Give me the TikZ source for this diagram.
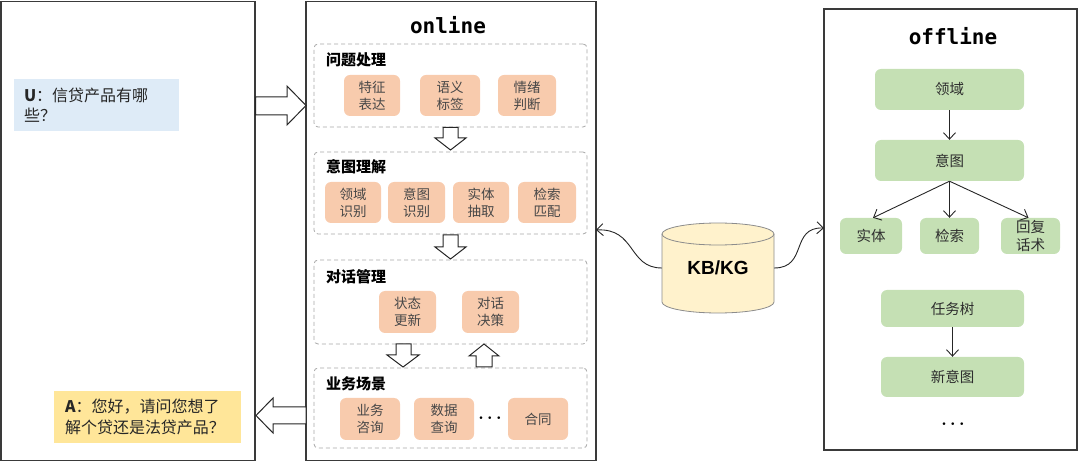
\documentclass[tikz,border=0pt]{standalone}
\usepackage{fontspec}
\setmainfont{Noto Sans CJK SC}
\newfontfamily\monofnt{DejaVu Sans Mono}
\newfontfamily\kbfnt{Liberation Sans}
\usetikzlibrary{arrows.meta}
\definecolor{orangebox}{HTML}{F8CBAD}
\definecolor{greenbox}{HTML}{C5E0B4}
\definecolor{bluebox}{HTML}{DEEBF7}
\definecolor{yellowbox}{HTML}{FFE699}
\definecolor{cylfill}{HTML}{FFF2CC}
\definecolor{cylline}{HTML}{8C8C8C}
\definecolor{dashgray}{HTML}{A6A6A6}
\definecolor{framecol}{HTML}{3A3A3A}
\begin{document}
\begin{tikzpicture}[x=1pt,y=-1pt,
  frame/.style={draw=framecol, line width=1.2pt, inner sep=0},
  grp/.style={draw=dashgray, dash pattern=on 4pt off 3pt, rounded corners=4pt, line width=0.8pt, inner sep=0},
  obox/.style={fill=orangebox, rounded corners=6pt, align=center, inner sep=0,
    font=\fontsize{13.5}{17}\selectfont, text=black!72},
  gbox/.style={fill=greenbox, rounded corners=6pt, align=center, inner sep=0,
    font=\fontsize{14.5}{18}\selectfont, text=black!82},
  ttl/.style={anchor=west, inner sep=0, font=\bfseries\fontsize{15}{18}\selectfont},
  blk/.style={draw=black!85, fill=white, line width=1pt, line join=miter},
  conn/.style={draw=black!85, line width=0.9pt, -{Straight Barb[length=6.5pt,width=12pt]}},
  head/.style={inner sep=0, font=\monofnt\bfseries\fontsize{21}{22}\selectfont},
  dots/.style={inner sep=0, font=\boldmath\fontsize{17}{17}\selectfont}
]
\useasboundingbox (0,0) rectangle (1080,462);

% ---------- frames ----------
\node[frame, minimum width=254, minimum height=459] (userpane) at (128,231) {};
\node[frame, minimum width=290, minimum height=459] (online) at (451,231) {};
\node[frame, minimum width=253, minimum height=441] (offline) at (950.5,229.5) {};

% ---------- user pane ----------
\node[fill=bluebox, minimum width=165, minimum height=52, text width=145, inner xsep=10, inner ysep=0,
  align=left, font=\fontsize{16}{20}\selectfont, text=black!85] (uq) at (96.5,105)
  {\textbf{U}：信贷产品有哪\\些？};
\node[fill=yellowbox, minimum width=187, minimum height=52, text width=165, inner xsep=11, inner ysep=0,
  align=left, font=\fontsize{16}{21}\selectfont, text=black!85] (ans) at (147.5,417)
  {\textbf{A}：您好，请问您想了\\解个贷还是法贷产品？};

% ---------- online ----------
\node[head] (ontitle) at (448,25) {online};

\node[grp, minimum width=273, minimum height=83] (g1) at (450.5,85.5) {};
\node[grp, minimum width=273, minimum height=82] (g2) at (450.5,193) {};
\node[grp, minimum width=273, minimum height=84] (g3) at (450.5,302) {};
\node[grp, minimum width=273, minimum height=80] (g4) at (450.5,408) {};

\node[ttl] (t1) at (326,60) {问题处理};
\node[ttl] (t2) at (326,167) {意图理解};
\node[ttl] (t3) at (326,277) {对话管理};
\node[ttl] (t4) at (326,384) {业务场景};

\node[obox, minimum width=56, minimum height=41] (a1) at (372,95.5) {特征\\表达};
\node[obox, minimum width=60, minimum height=41] (a2) at (450,95.5) {语义\\标签};
\node[obox, minimum width=58, minimum height=41] (a3) at (527,95.5) {情绪\\判断};

\node[obox, minimum width=56, minimum height=41] (b1) at (353,202.5) {领域\\识别};
\node[obox, minimum width=57, minimum height=41] (b2) at (416.5,202.5) {意图\\识别};
\node[obox, minimum width=56, minimum height=41] (b3) at (481,202.5) {实体\\抽取};
\node[obox, minimum width=58, minimum height=41] (b4) at (547,202.5) {检索\\匹配};

\node[obox, minimum width=57, minimum height=42] (c1) at (407.5,312) {状态\\更新};
\node[obox, minimum width=57, minimum height=42] (c2) at (490.5,312) {对话\\决策};

\node[obox, minimum width=60, minimum height=42] (d1) at (370,419) {业务\\咨询};
\node[obox, minimum width=60, minimum height=42] (d2) at (444,419) {数据\\查询};
\node[dots] (d3) at (490,418) {$\cdots$};
\node[obox, minimum width=60, minimum height=42] (d4) at (538,419) {合同};

% block arrows
\draw[blk] (255.5,97) -- (287,97) -- (287,86) -- (306,105.5) -- (287,125) -- (287,115) -- (255.5,115) -- cycle;
\draw[blk] (306,407) -- (273,407) -- (273,398) -- (256,415.5) -- (273,433) -- (273,424) -- (306,424) -- cycle;
\draw[blk] (443,127.5) -- (458,127.5) -- (458,138) -- (466,138) -- (450.5,150) -- (435,138) -- (443,138) -- cycle;
\draw[blk] (443,235) -- (458,235) -- (458,247) -- (466,247) -- (450.5,259) -- (435,247) -- (443,247) -- cycle;
\draw[blk] (396,344) -- (411,344) -- (411,355) -- (419,355) -- (403,367) -- (387,355) -- (396,355) -- cycle;
\draw[blk] (476,367) -- (492,367) -- (492,356) -- (499,356) -- (484,344) -- (469,356) -- (476,356) -- cycle;

% ---------- KB/KG ----------
\fill[cylfill] (662,234) -- (662,302) arc[start angle=180, end angle=360, x radius=56pt, y radius=11pt]
  -- (774,234) arc[start angle=0, end angle=180, x radius=56pt, y radius=11pt] -- cycle;
\draw[cylline, line width=0.8pt] (662,234) -- (662,302) arc[start angle=180, end angle=360, x radius=56pt, y radius=11pt] -- (774,234);
\draw[cylline, line width=0.8pt] (718,234) ellipse[x radius=56pt, y radius=11pt];
\node[inner sep=0, minimum width=112, minimum height=68, font=\kbfnt\bfseries\fontsize{19}{20}\selectfont] (kb) at (718,268) {KB/KG};

\coordinate (onin) at (596,230);
\coordinate (offin) at (824,228);
\draw[conn] (kb.west) .. controls (628,268) and (636,228) .. (onin);
\draw[conn] (kb.east) .. controls (808,268) and (790,227) .. (offin);

% ---------- offline ----------
\node[head] (offtitle) at (953,36) {offline};

\node[gbox, minimum width=149, minimum height=41] (e1) at (949.5,89.5) {领域};
\node[gbox, minimum width=149, minimum height=41] (e2) at (949.5,160.5) {意图};
\node[gbox, minimum width=62, minimum height=36] (f1) at (871,236) {实体};
\node[gbox, minimum width=59, minimum height=36] (f2) at (949.5,236) {检索};
\node[gbox, minimum width=59, minimum height=36] (f3) at (1030.5,236) {回复\\话术};
\node[gbox, minimum width=143, minimum height=37] (h1) at (952.5,308.5) {任务树};
\node[gbox, minimum width=143, minimum height=40] (h2) at (952.5,377) {新意图};
\node[dots] (h3) at (953,424) {$\cdots$};

\draw[conn] (e1.south) -- (e2.north);
\draw[conn] (e2.south) -- ([xshift=2pt]f1.north);
\draw[conn] (e2.south) -- (f2.north);
\draw[conn] (e2.south) -- ([xshift=-2pt]f3.north);
\draw[conn] (h1.south) -- (h2.north);
\end{tikzpicture}
\end{document}
